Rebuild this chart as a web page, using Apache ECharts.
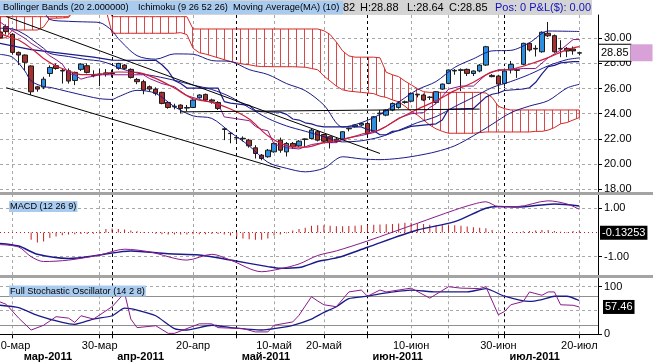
<!DOCTYPE html>
<html><head><meta charset="utf-8">
<script src="https://cdn.jsdelivr.net/npm/echarts@6/dist/echarts.min.js"></script>
<style>html,body{margin:0;padding:0;background:#fff;}#c{width:653px;height:364px;}</style>
</head><body><div id="c"></div>
<script>
// ---------- DATA ----------
const dates = ['2011-03-08','2011-03-09','2011-03-10','2011-03-11','2011-03-14','2011-03-15','2011-03-16','2011-03-17','2011-03-18','2011-03-21','2011-03-22','2011-03-23','2011-03-24','2011-03-25','2011-03-28','2011-03-29','2011-03-30','2011-03-31',
'2011-04-01','2011-04-04','2011-04-05','2011-04-06','2011-04-07','2011-04-08','2011-04-11','2011-04-12','2011-04-13','2011-04-14','2011-04-15','2011-04-18','2011-04-19','2011-04-20','2011-04-21','2011-04-25','2011-04-26','2011-04-27','2011-04-28','2011-04-29',
'2011-05-02','2011-05-03','2011-05-04','2011-05-05','2011-05-06','2011-05-09','2011-05-10','2011-05-11','2011-05-12','2011-05-13','2011-05-16','2011-05-17','2011-05-18','2011-05-19','2011-05-20','2011-05-23','2011-05-24','2011-05-25','2011-05-26','2011-05-27','2011-05-31',
'2011-06-01','2011-06-02','2011-06-03','2011-06-06','2011-06-07','2011-06-08','2011-06-09','2011-06-10','2011-06-13','2011-06-14','2011-06-15','2011-06-16','2011-06-17','2011-06-20','2011-06-21','2011-06-22','2011-06-23','2011-06-24','2011-06-27','2011-06-28','2011-06-29','2011-06-30',
'2011-07-01','2011-07-05','2011-07-06','2011-07-07','2011-07-08','2011-07-11','2011-07-12','2011-07-13','2011-07-14','2011-07-15','2011-07-18','2011-07-19','2011-07-20','2011-07-21','2011-07-22','2011-07-25'];

const opens = [30.5,30.93,30.32,28.88,28.67,27.80,26.14,26.12,27.2,27.82,
27.45,27.42,26.65,27.53,27.82,27.1,27.1,27.15,27.25,27.61,
27.87,27.53,26.73,26.55,26.15,25.96,25.70,24.90,24.55,24.69,
24.45,24.5,25.27,25.54,25.1,24.9,22.8,22.45,22.1,22.05,
21.9,21.29,20.71,20.58,20.97,21.9,20.97,21.64,21.45,21.95,
22.03,22.57,22.35,22.17,21.98,21.98,22.8,22.97,23.1,23.23,
22.57,24.0,23.89,24.29,24.5,24.9,25.0,25.5,25.49,25.3,
24.9,25.96,26.41,27.4,27.45,27.53,27.2,27.4,27.87,27.05,
27.0,26.41,27.48,27.5,27.93,29.6,29.2,28.93,30.4,30.21,
29.2,29.2,29.15,28.82];
const closes = [30.05,30.53,28.88,28.67,28.09,25.75,25.96,26.75,27.68,27.6,
27.4,26.6,27.29,27.95,27.29,27.05,27.15,27.25,27.2,28.0,
27.61,26.89,26.55,25.88,25.96,25.62,24.82,24.5,24.6,24.42,
24.5,25.09,25.49,25.09,25.0,24.42,22.75,22.42,22.08,22.0,
21.45,20.84,20.44,21.1,21.64,21.1,21.64,21.37,21.82,22.0,
22.7,21.9,21.82,21.72,21.8,22.57,22.85,23.1,23.23,22.43,
23.76,24.05,24.29,24.82,24.85,24.95,25.62,25.55,25.09,25.32,
25.75,26.36,27.48,27.45,27.5,27.21,27.4,27.87,29.33,26.95,
26.36,27.4,27.93,27.45,29.6,29.07,29.15,30.48,30.2,28.93,
29.15,28.99,29.0,28.85];
const highs = [31.0,31.1,30.4,28.95,28.72,27.85,26.22,26.94,27.85,28.0,
27.6,27.6,27.35,28.0,28.0,27.45,27.6,27.55,27.5,28.05,
27.95,27.6,26.85,26.7,26.25,26.1,25.75,25.0,24.8,24.75,
24.7,25.15,25.55,25.6,25.2,25.0,22.85,22.55,22.3,22.2,
22.0,21.5,20.8,21.2,21.7,22.1,21.75,21.75,21.9,22.05,
22.8,22.65,22.4,22.2,22.1,22.6,22.9,23.15,23.3,23.4,
23.8,24.3,24.35,24.9,25.0,25.05,25.7,25.6,25.6,25.4,
25.8,26.4,27.5,27.55,27.6,27.6,27.45,27.95,29.4,27.15,
27.1,27.6,28.2,27.6,29.65,29.65,29.45,30.55,31.3,30.3,
29.85,29.3,29.35,28.88];
const lows = [29.9,30.3,28.7,27.87,27.47,25.49,25.75,25.96,26.94,27.5,
26.4,26.4,26.28,27.4,27.2,26.9,26.2,26.95,26.9,27.5,
27.5,26.8,26.35,25.55,25.8,25.45,24.75,24.4,24.35,24.03,
24.2,24.45,25.2,25.0,24.8,24.3,21.9,21.65,21.65,21.8,
21.3,20.44,20.3,20.5,20.9,20.9,20.6,21.2,21.35,21.37,
21.95,21.8,21.7,21.24,21.7,21.9,22.6,22.9,23.0,22.3,
22.5,23.36,23.8,24.2,24.4,24.8,24.9,25.3,25.0,25.1,
24.8,25.9,26.35,27.1,25.8,27.0,27.0,27.3,27.8,26.9,
25.6,26.15,27.2,26.85,27.85,28.95,28.55,28.85,30.1,28.85,
28.5,28.5,28.7,28.64];

// Bollinger Bands (20, 2) read as [dayIndex, value]
const bbUpper = [[0,32.9],[2,33.0],[4,33.2],[5,33.3],[7,32.2],[8,31.5],[11,31.35],[14,31.3],[16,31.25],[18,30.6],[19,29.97],[22,28.62],[25,28.34],[28,28.76],[31,28.73],[34,28.23],[37,28.16],[40,27.51],[43,27.12],[46,26.4],[49,25.84],[52,24.69],[55,22.94],[58,23.29],[61,23.95],[64,24.93],[67,25.91],[70,26.56],[73,27.69],[76,28.37],[79,29.0],[82,29.04],[85,29.65],[88,30.58],[91,30.56],[93,30.54]];
const bbMiddle = [[0,30.8],[2,30.75],[4,30.3],[5,29.95],[7,29.2],[8,28.8],[11,28.55],[14,28.3],[16,28.2],[18,27.9],[19,27.66],[22,27.24],[25,26.98],[28,26.66],[31,26.28],[34,25.93],[37,25.34],[40,24.48],[43,23.63],[46,23.03],[49,22.61],[52,22.18],[55,21.76],[58,21.85],[61,22.15],[64,22.69],[67,23.29],[70,23.77],[73,24.57],[76,25.31],[79,26.08],[82,26.56],[85,27.13],[88,27.81],[91,28.30],[93,28.44]];
const bbLower = [[0,28.72],[2,28.5],[4,27.4],[5,26.6],[7,26.15],[8,26.1],[11,25.75],[14,25.4],[16,25.2],[18,25.14],[19,25.35],[22,25.86],[25,25.62],[28,24.56],[31,23.83],[34,23.63],[37,22.52],[40,21.45],[43,20.14],[46,19.66],[49,19.38],[52,19.67],[55,20.58],[58,20.41],[61,20.35],[64,20.45],[67,20.67],[70,20.98],[73,21.45],[76,22.25],[79,23.16],[82,24.08],[85,24.61],[88,25.04],[91,26.04],[93,26.34]];
// Moving Average (10)
const ma10 = [[0,30.4],[2,30.0],[3,29.86],[5,29.2],[7,28.4],[9,27.8],[10,27.6],[11,27.4],[13,27.11],[16,27.15],[19,27.32],[22,27.29],[25,26.81],[28,26.04],[31,25.19],[34,24.91],[37,24.38],[40,23.58],[43,22.25],[46,21.47],[49,21.34],[52,21.71],[55,21.93],[58,22.37],[61,22.73],[64,23.6],[67,24.36],[70,25.03],[73,25.84],[76,26.51],[79,27.33],[82,27.54],[85,27.94],[88,28.46],[91,29.1],[93,29.34]];
// Ichimoku tenkan / kijun
const tenkan = [[0,31.3],[2,30.6],[4,30.0],[5,29.6],[7,29.0],[8,28.6],[9,28.3],[10,27.95],[11,27.2],[12,27.1],[13,26.75],[14,26.9],[15,26.98],[16,27.1],[23,27.1],[24,26.8],[26,26.4],[28,26.15],[30,25.44],[32,25.14],[35,24.8],[36,23.75],[38,23.6],[40,23.45],[41,23.0],[42,22.75],[43,22.65],[44,21.58],[46,21.3],[48,21.2],[50,21.55],[52,21.7],[54,21.7],[55,22.0],[58,22.27],[60,22.5],[62,23.0],[64,23.65],[66,24.0],[68,24.1],[69,24.5],[70,24.8],[72,25.95],[74,26.2],[76,26.2],[78,27.1],[80,27.5],[82,27.5],[84,27.6],[86,27.6],[88,28.45],[90,29.07],[92,29.9],[93,29.9]];
const kijun = [[0,29.6],[5,29.1],[10,28.8],[15,28.5],[18,28.27],[25,28.25],[26,27.9],[27,27.4],[28,26.65],[29,26.4],[30,26.04],[35,26.04],[36,24.97],[37,24.85],[40,24.67],[41,24.25],[42,24.17],[45,24.13],[46,23.95],[47,23.58],[48,23.5],[49,23.28],[50,23.2],[51,23.03],[52,22.95],[58,22.95],[59,22.75],[60,22.65],[61,22.33],[62,22.33],[63,22.6],[64,22.65],[66,23.0],[68,23.1],[70,23.2],[71,23.5],[72,24.35],[76,24.42],[78,25.32],[79,25.55],[80,25.65],[81,25.85],[84,25.97],[85,26.07],[86,26.5],[87,27.17],[88,27.75],[89,27.85],[90,28.05],[92,28.15],[93,28.15]];
// Ichimoku cloud spans (one value per day)
const spanA = [30.0,30.05,30.66,30.66,30.66,30.66,30.66,30.9,31.6,31.6,31.62,31.65,32.3,32.3,32.3,32.3,32.3,32.3,30.4,30.4,
30.4,30.4,30.4,30.4,30.4,30.4,30.4,30.4,30.4,30.45,30.3,29.2,28.85,28.75,28.6,28.45,28.3,28.15,28.05,27.95,
27.9,27.8,27.75,27.75,27.74,27.74,27.74,27.74,27.72,27.7,27.6,27.5,27.0,26.6,26.2,25.9,25.8,25.75,25.7,25.65,
25.6,25.4,25.3,25.1,24.95,24.6,24.2,23.9,23.5,23.1,22.8,22.6,22.45,22.45,22.45,22.45,22.45,22.5,22.55,22.55,
22.55,22.55,22.55,22.55,22.55,22.55,22.6,22.6,22.7,22.9,23.2,23.3,23.5,23.7];
const spanB = [31.72,31.72,31.72,31.72,31.72,31.72,31.72,31.72,31.72,31.72,31.72,31.72,32.6,32.6,32.6,32.6,32.6,32.6,31.72,31.72,
31.72,31.72,31.72,31.72,31.72,31.72,31.72,31.72,31.72,31.72,31.72,30.74,30.74,30.74,30.74,30.74,30.74,30.74,30.74,30.74,
30.74,30.74,30.74,30.74,30.74,30.74,30.74,30.74,30.74,30.74,30.74,30.74,30.6,30.3,29.7,29.0,28.6,28.5,28.5,28.5,
28.5,28.45,27.3,27.1,26.95,26.6,26.3,26.0,25.75,25.7,25.7,25.7,25.7,25.7,25.7,25.7,25.7,25.7,25.65,25.3,
24.6,24.4,24.3,24.3,24.3,24.3,24.3,24.3,24.3,24.3,24.3,24.3,24.3,24.3];
// drawn trend lines [dayIndex, price]
const trendUpper = [[1,31.73],[61,20.84]];
const trendLower = [[1,26.07],[45,19.6]];
const trendFlat = [[29,24.15],[77,24.37]];

// MACD (12 26 9)
const macdLine = [[0,-0.5],[3,-0.6],[5,-1.0],[7,-1.2],[11,-1.14],[16,-0.93],[20,-0.69],[24,-0.8],[30,-1.14],[34,-0.9],[37,-1.14],[42,-1.62],[45,-1.5],[48,-1.3],[51,-0.95],[54,-0.76],[59,-0.35],[67,0.38],[73,0.93],[76,1.17],[78,1.27],[80,1.07],[83,1.07],[88,1.31],[91,1.18],[93,0.96]];
const macdSignal = [[0,-0.45],[3,-0.56],[6,-0.9],[11,-1.07],[16,-0.93],[21,-0.76],[27,-0.88],[32,-0.93],[37,-1.14],[43,-1.41],[45,-1.48],[48,-1.45],[51,-1.2],[53,-1.1],[55,-0.98],[59,-0.61],[67,0.1],[73,0.45],[78,1.0],[80,1.07],[83,1.05],[89,1.18],[93,1.1]];
const macdHist = [0,0,0,0,0,-0.30,-0.41,-0.37,-0.23,-0.17,-0.11,-0.08,-0.07,-0.06,-0.06,-0.05,-0.04,0.14,0.17,0.15,
0.12,0.08,0.05,0.02,0,-0.05,-0.07,-0.08,-0.08,-0.08,-0.08,-0.07,-0.07,-0.07,-0.06,-0.06,-0.08,-0.12,-0.2,-0.25,
-0.28,-0.3,-0.3,-0.25,-0.12,-0.08,-0.03,0.08,0.14,0.2,0.28,0.3,0.3,0.28,0.26,0.26,0.27,0.28,0.3,0.3,
0.32,0.33,0.34,0.35,0.37,0.4,0.4,0.38,0.35,0.32,0.3,0.3,0.3,0.3,0.28,0.25,0.22,0.2,0.18,0.1,
0,0,0,0.02,0.05,0.06,0.08,0.1,0.1,0.06,0.03,0.02,0.06,0.05];

// Full Stochastic (14 2 8)
const stochK = [[0,68],[1,63],[3,34],[5,9],[7,19],[9,37],[11,34],[12,25],[13,39],[15,32],[18,58],[20,87],[21,32],[22,14],[25,18],[27,2],[28,2],[30,12],[32,22],[34,22],[35,14],[39,12],[41,5],[43,5],[44,19],[47,26],[48,40],[50,79],[51,70],[52,62],[54,58],[56,89],[58,93],[59,80],[61,93],[62,89],[64,93],[66,97],[69,76],[72,100],[74,97],[77,96],[78,100],[80,41],[81,48],[82,62],[84,69],[85,89],[87,82],[88,89],[89,89],[90,62],[92,61],[93,57.46]];
const stochD = [[0,61],[3,56],[6,40],[10,25],[12,21],[15,32],[18,39],[20,55],[22,51],[25,39],[28,12],[30,9],[34,19],[37,14],[42,9],[44,12],[47,19],[50,32],[52,46],[54,58],[56,75],[59,80],[62,87],[66,93],[70,89],[75,89],[78,96],[81,80],[85,69],[87,73],[89,80],[91,80],[93,71]];

// ticks / labels
const priceTicks = [18,20,22,24,26,28,30];
const macdTicks = [-1,1];
const stochTicks = [0,100];
const dayLabels = {2:'10-мар',16:'30-мар',31:'20-апр',44:'10-май',52:'20-май',66:'10-июн',80:'30-июн',93:'20-июл'};
const gridDays = [2,16,31,44,52,66,72,80,93];
const monthStarts = [18,38,59,81];
const monthLabels = {3:'мар-2011',18:'апр-2011',38:'май-2011',59:'июн-2011',81:'июл-2011'};
const lastPrice = 28.85, lastMacd = -0.13253, lastStoch = 57.46;

// ---------- CHART ----------
const FONT = '"Liberation Sans", Arial, sans-serif';
const chart = echarts.init(document.getElementById('c'), null, {renderer:'canvas'});
const NAVY = '#1a1a8a', PURPLE = '#8a1a8a';
const toPairs = arr => arr.map(p => [dates[p[0]], p[1]]);

const hatch = document.createElement('canvas');
hatch.width = 8; hatch.height = 8;
const hctx = hatch.getContext('2d');
hctx.fillStyle = '#d84848'; hctx.fillRect(0,0,1,8);

function vLines(){
  const a = gridDays.map(i => ({xAxis: dates[i], lineStyle:{color:'#a8a8a8', type:[3,3], width:1}}));
  const b = monthStarts.map(i => ({xAxis: dates[i], lineStyle:{color:'#000', type:[3,3], width:1}}));
  return a.concat(b);
}
const dash = c => ({color:c||'#a8a8a8', type:[3,3], width:1});
const hidden = {color:'rgba(0,0,0,0)', width:0};
function valueTag(v, text, bg, fg, dist, off){
  return {yAxis:v, lineStyle:hidden,
    label:{show:true, opacity:1, position:'end', distance:dist, offset:off || [0,0], formatter:text,
      backgroundColor:bg, color:fg, padding:[2,2,1,2], fontSize:11, fontFamily:FONT}};
}
function gridSeries(xi, extra){
  return {type:'line', xAxisIndex:xi, yAxisIndex:xi, data:[], silent:true, z:1,
    markLine:{silent:true, symbol:'none', animation:false, label:{show:false},
      data: vLines().concat(extra)}};
}

const yAxisBase = (gi, min, max, ticks, fmt) => ({
  type:'value', gridIndex:gi, position:'right', min:min, max:max, scale:true,
  axisLine:{show:true, lineStyle:{color:'#000', width:1}},
  axisTick:{show:true, length:4, lineStyle:{color:'#000'}, customValues:ticks},
  axisLabel:{show:true, customValues:ticks, formatter:fmt, color:'#000', fontSize:11, fontFamily:FONT, margin:6},
  splitLine:{show:false}
});
const hiddenX = gi => ({type:'category', gridIndex:gi, data:dates, boundaryGap:false, show:false});

const priceTag = {yAxis:lastPrice, lineStyle:hidden,
  label:{show:true, opacity:1, position:'end', distance:1, formatter:'{a|' + lastPrice.toFixed(2) + '}{b|}',
    rich:{a:{backgroundColor:'#fff', borderColor:'#000', borderWidth:1, padding:[3,2,2,2], color:'#000', fontSize:11, fontFamily:FONT},
          b:{backgroundColor:'#d8a2d8', width:22, height:17}}}};

const option = {
  animation:false,
  backgroundColor:'#fff',
  grid:[
    {left:0, right:55, top:15, height:177, containLabel:false, outerBoundsMode:'none'},
    {left:0, right:55, top:195, height:80, containLabel:false, outerBoundsMode:'none'},
    {left:0, right:55, top:278, height:56.3, containLabel:false, outerBoundsMode:'none'}
  ],
  xAxis:[
    hiddenX(0), hiddenX(1),
    {type:'category', gridIndex:2, data:dates, boundaryGap:false, position:'bottom',
      axisLine:{show:true, lineStyle:{color:'#000'}},
      axisTick:{show:true, length:4, interval:(i)=> gridDays.includes(i) || monthStarts.includes(i), lineStyle:{color:'#000'}},
      axisLabel:{interval:(i)=> dayLabels[i] !== undefined, formatter:(v,i)=> dayLabels[i] || '', color:'#000', fontSize:11, fontFamily:FONT, margin:6},
      splitLine:{show:false}},
    {type:'category', gridIndex:2, data:dates, boundaryGap:false, position:'bottom', offset:11,
      axisLine:{show:false}, axisTick:{show:false},
      axisLabel:{interval:(i)=> monthLabels[i] !== undefined, formatter:(v,i)=> monthLabels[i] || '', align:'left', padding:[0,0,0,5],
        color:'#000', fontSize:11, fontWeight:'bold', fontFamily:FONT, margin:6},
      splitLine:{show:false}}
  ],
  yAxis:[
    yAxisBase(0, 17.777, 31.853, priceTicks, v => v.toFixed(2)),
    yAxisBase(1, -1.756, 1.55, macdTicks, v => v.toFixed(2)),
    yAxisBase(2, 0, 118.3, stochTicks, v => String(Math.round(v)))
  ],
  series:[
    gridSeries(0, priceTicks.map(v => ({yAxis:v, lineStyle:dash()})).concat([priceTag])),
    gridSeries(1, [{yAxis:1, lineStyle:dash()},{yAxis:-1, lineStyle:dash()},{yAxis:0, lineStyle:{color:'#c02020', type:[1,3], width:1}},
      valueTag(lastMacd, String(lastMacd), '#000', '#fff', 2, [0,-3])]),
    gridSeries(2, [{yAxis:100, lineStyle:dash()},{yAxis:50, lineStyle:dash()},
      {yAxis:80, lineStyle:{color:'#909090', width:1, type:'solid'}},{yAxis:20, lineStyle:{color:'#909090', width:1, type:'solid'}},
      valueTag(lastStoch, lastStoch.toFixed(2), '#000', '#fff', 5)]),
    // Ichimoku cloud
    {type:'custom', xAxisIndex:0, yAxisIndex:0, z:6, clip:true, silent:true,
      data:[[0]],
      renderItem:(params, api) => {
        const pts = [];
        for (let i=0;i<spanA.length;i++) pts.push(api.coord([i, spanA[i]]));
        for (let i=spanB.length-1;i>=0;i--) pts.push(api.coord([i, spanB[i]]));
        return {type:'polygon', shape:{points:pts},
          style:{fill:{image:hatch, repeat:'repeat'}, stroke:'#d42828', lineWidth:1}};
      }},
    // candles
    {type:'candlestick', xAxisIndex:0, yAxisIndex:0, z:8, barWidth:5,
      data: dates.map((d,i) => i < opens.length ? [opens[i], closes[i], lows[i], highs[i]] : '-'),
      itemStyle:{color:'#2c8fe0', color0:'#a8302e', borderColor:'#1b1b1b', borderColor0:'#1b1b1b', borderWidth:1}},
    {type:'line', xAxisIndex:0, yAxisIndex:0, z:9, data:toPairs(bbUpper), smooth:0.3, symbol:'none', lineStyle:{color:NAVY, width:1}},
    {type:'line', xAxisIndex:0, yAxisIndex:0, z:9, data:toPairs(bbMiddle), smooth:0.3, symbol:'none', lineStyle:{color:NAVY, width:1}},
    {type:'line', xAxisIndex:0, yAxisIndex:0, z:9, data:toPairs(bbLower), smooth:0.3, symbol:'none', lineStyle:{color:NAVY, width:1}},
    {type:'line', xAxisIndex:0, yAxisIndex:0, z:9, data:toPairs(kijun), symbol:'none', lineStyle:{color:NAVY, width:1.2}},
    {type:'line', xAxisIndex:0, yAxisIndex:0, z:9, data:toPairs(tenkan), symbol:'none', lineStyle:{color:PURPLE, width:1}},
    {type:'line', xAxisIndex:0, yAxisIndex:0, z:10, data:toPairs(ma10), smooth:0.3, symbol:'none', lineStyle:{color:'#cc1f3a', width:1.2}},
    {type:'line', xAxisIndex:0, yAxisIndex:0, z:10, data:toPairs(trendUpper), symbol:'none', lineStyle:{color:'#000', width:1}},
    {type:'line', xAxisIndex:0, yAxisIndex:0, z:10, data:toPairs(trendLower), symbol:'none', lineStyle:{color:'#000', width:1}},
    {type:'line', xAxisIndex:0, yAxisIndex:0, z:10, data:toPairs(trendFlat), symbol:'none', lineStyle:{color:'#000', width:1}},
    // MACD
    {type:'bar', xAxisIndex:1, yAxisIndex:1, z:6, barWidth:1, data:macdHist.concat([null,null,null]), itemStyle:{color:'#c02020'}},
    {type:'line', xAxisIndex:1, yAxisIndex:1, z:8, data:toPairs(macdSignal), smooth:0.3, symbol:'none', lineStyle:{color:NAVY, width:1.5}},
    {type:'line', xAxisIndex:1, yAxisIndex:1, z:8, data:toPairs(macdLine), smooth:0.3, symbol:'none', lineStyle:{color:PURPLE, width:1}},
    // Stochastic
    {type:'line', xAxisIndex:2, yAxisIndex:2, z:8, data:toPairs(stochD), smooth:0.2, symbol:'none', lineStyle:{color:NAVY, width:1.3}},
    {type:'line', xAxisIndex:2, yAxisIndex:2, z:8, data:toPairs(stochK), symbol:'none', lineStyle:{color:PURPLE, width:1}}
  ],
  graphic:[
    {type:'rect', z:100, shape:{x:0, y:192, width:653, height:3}, style:{fill:'#a4a4a4'}},
    {type:'rect', z:100, shape:{x:0, y:275, width:653, height:3}, style:{fill:'#a4a4a4'}},
    {type:'rect', z:100, shape:{x:0, y:0, width:592, height:15}, style:{fill:'#d4d4d4'}},
    {type:'text', z:101, x:316, y:7.5, style:{text:'O:28.82', fill:'#000', font:'11px ' + FONT, verticalAlign:'middle'}},
    {type:'text', z:101, x:360, y:7.5, style:{text:'H:28.88', fill:'#000', font:'11px ' + FONT, verticalAlign:'middle'}},
    {type:'text', z:101, x:407, y:7.5, style:{text:'L:28.64', fill:'#000', font:'11px ' + FONT, verticalAlign:'middle'}},
    {type:'text', z:101, x:449, y:7.5, style:{text:'C:28.85', fill:'#000', font:'11px ' + FONT, verticalAlign:'middle'}},
    {type:'text', z:101, x:495, y:7.5, style:{text:'Pos: 0 P&L($): 0.00', fill:'#1010c0', font:'11px ' + FONT, verticalAlign:'middle'}},
    {type:'rect', z:102, shape:{x:0, y:1, width:343, height:13}, style:{fill:'#a9cbef'}},
    {type:'text', z:103, x:3, y:7.5, style:{text:'Bollinger Bands (20 2.000000)', fill:'#000', font:'9.3px ' + FONT, verticalAlign:'middle'}},
    {type:'text', z:103, x:138, y:7.5, style:{text:'Ichimoku (9 26 52 26)', fill:'#000', font:'9.3px ' + FONT, verticalAlign:'middle'}},
    {type:'text', z:103, x:233, y:7.5, style:{text:'Moving Average(MA) (10)', fill:'#000', font:'9.3px ' + FONT, verticalAlign:'middle'}},
    {type:'text', z:103, x:9, y:206.5, style:{text:'MACD (12 26 9)', fill:'#000', font:'9.2px ' + FONT, verticalAlign:'middle', backgroundColor:'#a9cbef', padding:[1,1,1,1]}},
    {type:'text', z:103, x:9, y:291, style:{text:'Full Stochastic Oscillator (14 2 8)', fill:'#000', font:'9.2px ' + FONT, verticalAlign:'middle', backgroundColor:'#a9cbef', padding:[1,1,1,1]}}
  ]
};
chart.setOption(option);
</script></body></html>
